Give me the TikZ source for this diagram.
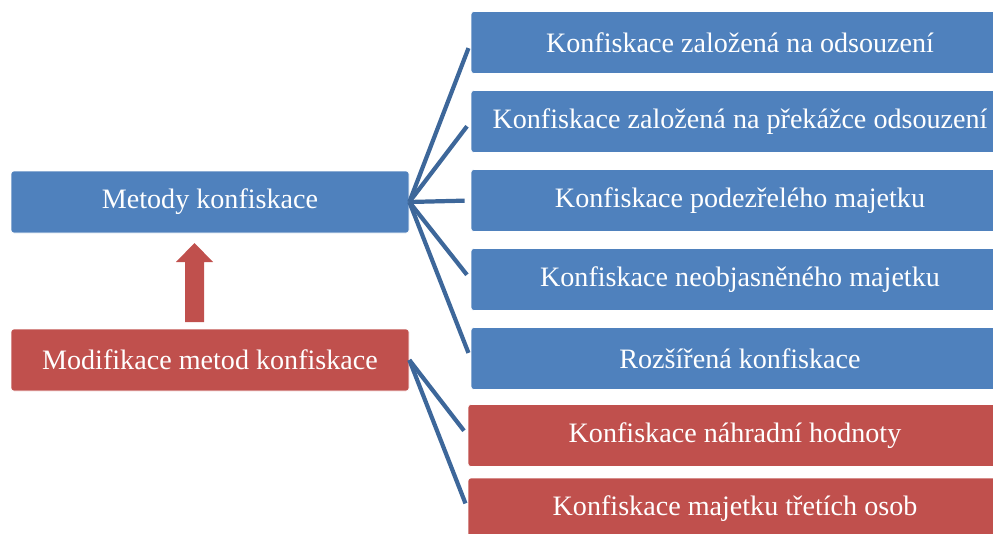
\documentclass[tikz,border=0pt]{standalone}
\usepackage{fontspec}
\setmainfont{Liberation Serif}
\definecolor{boxblue}{HTML}{4F81BD}
\definecolor{boxred}{HTML}{C0504D}
\definecolor{linkblue}{HTML}{3D679A}
\tikzset{
  box/.style={rectangle, rounded corners=2pt, draw=white, line width=0.5pt,
    text=white, minimum height=1.55cm, inner sep=0pt,
    font=\fontsize{20}{23}\selectfont},
  bluebox/.style={box, fill=boxblue},
  redbox/.style={box, fill=boxred},
  link/.style={linkblue, line width=3pt, shorten >=0.15cm}
}
\begin{document}
\begin{tikzpicture}
    \def\dy{1.975}
    \useasboundingbox (0,0) rectangle (24.825,13.325);
    % left side
    \node [bluebox, minimum width=9.95cm] (metody) at (5.25,8.275) {Metody konfiskace};
    \node [redbox, minimum width=9.95cm] (modif) at (5.25,4.325) {Modifikace metod konfiskace};
    % right side
    \node [bluebox, minimum width=13.45cm] (k1) at (18.5,12.2625+0*\dy) {Konfiskace založená na odsouzení};
    \node [bluebox, minimum width=13.45cm] (k2) at (18.5,12.2625-1*\dy) {Konfiskace založená na překážce odsouzení};
    \node [bluebox, minimum width=13.45cm] (k3) at (18.5,12.2625-2*\dy) {Konfiskace podezřelého majetku};
    \node [bluebox, minimum width=13.45cm] (k4) at (18.5,12.2625-3*\dy) {Konfiskace neobjasněného majetku};
    \node [bluebox, minimum width=13.45cm] (k5) at (18.5,12.2625-4*\dy) {Rozšířená konfiskace};
    \node [redbox, minimum width=13.35cm] (m1) at (18.375,2.4375) {Konfiskace náhradní hodnoty};
    \node [redbox, minimum width=13.35cm] (m2) at (18.375,0.6) {Konfiskace majetku třetích osob};
    % links
    \foreach \k in {k1,k2,k3,k4,k5}
      \draw [link] (metody.east) -- (\k.west);
    \foreach \m in {m1,m2}
      \draw [link] (modif.east) -- (\m.west);
    % block arrow
    \fill [boxred] (4.625,5.275) -- (5.1,5.275) -- (5.1,6.775) -- (5.325,6.775)
      -- (4.8625,7.25) -- (4.4,6.775) -- (4.625,6.775) -- cycle;
\end{tikzpicture}
\end{document}
